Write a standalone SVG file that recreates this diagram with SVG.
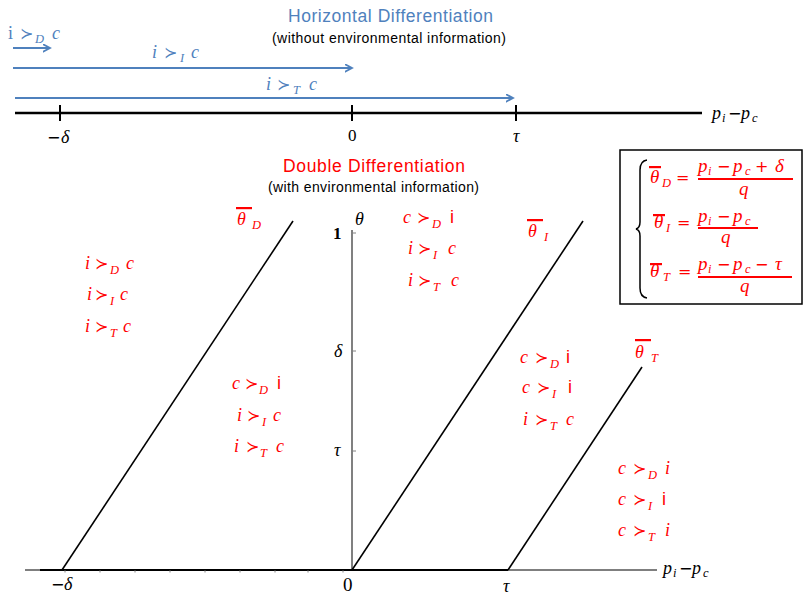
<svg xmlns="http://www.w3.org/2000/svg" width="805" height="596" viewBox="0 0 805 596">
<style>
.r{fill:#FF0000}
.b{fill:#4F81BD}
.it{font-family:"Liberation Serif","DejaVu Serif",serif;font-style:italic;font-size:18px}
.sub{font-family:"Liberation Serif","DejaVu Serif",serif;font-style:italic;font-size:12.5px}
.op{font-family:"DejaVu Sans",sans-serif;font-style:normal;font-size:16px}
.up{font-family:"Liberation Sans",sans-serif;font-style:normal;font-size:18px}
.rm{font-family:"Liberation Serif","DejaVu Serif",serif;font-style:normal}
.ttl{font-family:"Liberation Sans",sans-serif;font-size:17.5px}
.sttl{font-family:"Liberation Sans",sans-serif;font-size:14px;fill:#000}
.ax{stroke:#000;fill:none}
.ln{stroke:#000;stroke-width:1.6;fill:none}
.arr{stroke:#4F81BD;stroke-width:1.8;fill:none;marker-end:url(#ah)}
.fb{stroke:#FF0000;stroke-width:2}
.f19{font-size:19px}
</style>
<defs>
<marker id="ah" markerUnits="userSpaceOnUse" markerWidth="10" markerHeight="10" refX="7.5" refY="4" orient="auto">
<path d="M0,0 L7.5,4 L0,8" fill="none" stroke="#4F81BD" stroke-width="1.8"/>
</marker>
</defs>

<g id="titles">
<text class="ttl b" x="288" y="22" textLength="205">Horizontal Differentiation</text>
<text class="sttl" x="272" y="43" textLength="234">(without environmental information)</text>
<text class="ttl r" x="283" y="172" textLength="182">Double Differentiation</text>
<text class="sttl" x="268" y="192" textLength="211">(with environmental information)</text>
</g>

<g id="connectors">
<line class="arr" x1="13" y1="48" x2="50" y2="48"/>
<line class="arr" x1="13" y1="68" x2="352" y2="68"/>
<line class="arr" x1="15" y1="98" x2="513" y2="98"/>
<line class="ax" x1="15" y1="113" x2="702" y2="113" stroke-width="2.6"/>
<line class="ax" x1="60" y1="105" x2="60" y2="121" stroke-width="2"/>
<line class="ax" x1="352" y1="105" x2="352" y2="121" stroke-width="2"/>
<line class="ax" x1="516" y1="105" x2="516" y2="121" stroke-width="2"/>
<line x1="352" y1="230" x2="352" y2="570" stroke="#808080" stroke-width="2"/>
<line x1="352" y1="233" x2="356" y2="233" stroke="#808080" stroke-width="1"/>
<line x1="352" y1="351" x2="356" y2="351" stroke="#808080" stroke-width="1"/>
<line x1="352" y1="451" x2="356" y2="451" stroke="#808080" stroke-width="1"/>
<line class="ax" x1="25" y1="570" x2="657" y2="570" stroke-width="1.2"/>
<line class="ax" x1="40" y1="570" x2="508" y2="570" stroke-width="2"/>
<path d="M65,570v2.5M100,570v2.5M135,570v2.5M170,570v2.5M205,570v2.5M240,570v2.5M275,570v2.5M308,570v2.5M343,570v2.5" stroke="#666" stroke-width="0.8"/>
<line class="ln" x1="62" y1="570" x2="293" y2="221"/>
<line class="ln" x1="352" y1="570" x2="583" y2="221"/>
<line class="ln" x1="508" y1="570" x2="642" y2="367"/>
</g>

<g id="top-axis-labels">
<text x="47" y="143"><tspan class="op" font-size="15">−</tspan><tspan class="it" x="61" font-size="17">δ</tspan></text>
<text class="rm" x="348" y="141" font-size="17">0</text>
<text class="it" x="513" y="142" font-size="17">τ</text>
<text y="119"><tspan class="it" x="712" font-size="20">p</tspan><tspan class="sub" x="722" y="122">i</tspan><tspan class="op" x="728" y="119" font-size="15">−</tspan><tspan class="it" x="741" y="119" font-size="20">p</tspan><tspan class="sub" x="752" y="122">c</tspan></text>
</g>

<g id="bottom-axis-labels">
<text x="51" y="590"><tspan class="op" font-size="13">−</tspan><tspan class="it" x="64" font-size="16">δ</tspan></text>
<text class="rm" x="343" y="591" font-size="19">0</text>
<text class="it" x="503" y="592" font-size="17">τ</text>
<text y="574"><tspan class="it" x="663" font-size="20">p</tspan><tspan class="sub" x="673" y="577">i</tspan><tspan class="op" x="679" y="574" font-size="15">−</tspan><tspan class="it" x="692" y="574" font-size="20">p</tspan><tspan class="sub" x="703" y="577">c</tspan></text>
<text class="it" x="355" y="225" font-size="19">θ</text>
<text class="rm" x="333" y="239" font-size="17" font-weight="bold">1</text>
<text class="it" x="334" y="357" font-size="17">δ</text>
<text class="it" x="334" y="456" font-size="17">τ</text>
</g>

<g id="horizontal-labels" class="b">
<text><tspan class="rm" x="8" y="39" font-size="18">i</tspan><tspan class="op" x="20" y="39">≻</tspan><tspan class="sub" x="35" y="43">D</tspan><tspan class="it" x="52" y="39">c</tspan></text>
<text><tspan class="it" x="152" y="58">i</tspan><tspan class="op" x="164" y="58">≻</tspan><tspan class="sub" x="180" y="62">I</tspan><tspan class="it" x="191" y="58">c</tspan></text>
<text><tspan class="it" x="266" y="90">i</tspan><tspan class="op" x="277" y="90">≻</tspan><tspan class="sub" x="293" y="94">T</tspan><tspan class="it" x="309" y="90">c</tspan></text>
</g>

<g id="region-left" class="r">
<text><tspan class="it" x="85" y="269">i</tspan><tspan class="op" x="95" y="269">≻</tspan><tspan class="sub" x="110" y="274">D</tspan><tspan class="it" x="126" y="269">c</tspan></text>
<text><tspan class="it" x="87" y="300">i</tspan><tspan class="op" x="95" y="300">≻</tspan><tspan class="sub" x="110" y="305">I</tspan><tspan class="it" x="120" y="300">c</tspan></text>
<text><tspan class="it" x="85" y="332">i</tspan><tspan class="op" x="95" y="332">≻</tspan><tspan class="sub" x="110" y="337">T</tspan><tspan class="it" x="123" y="332">c</tspan></text>
</g>

<g id="region-center-left" class="r">
<text><tspan class="it" x="232" y="389">c</tspan><tspan class="op" x="245" y="389">≻</tspan><tspan class="sub" x="259" y="394">D</tspan><tspan class="up" x="277" y="389">i</tspan></text>
<text><tspan class="it" x="237" y="421">i</tspan><tspan class="op" x="247" y="421">≻</tspan><tspan class="sub" x="262" y="426">I</tspan><tspan class="it" x="273" y="421">c</tspan></text>
<text><tspan class="it" x="234" y="452">i</tspan><tspan class="op" x="246" y="452">≻</tspan><tspan class="sub" x="260" y="457">T</tspan><tspan class="it" x="276" y="452">c</tspan></text>
</g>

<g id="region-top-center" class="r">
<text><tspan class="it" x="403" y="223">c</tspan><tspan class="op" x="417" y="223">≻</tspan><tspan class="sub" x="432" y="228">D</tspan><tspan class="up" x="450" y="223">i</tspan></text>
<text><tspan class="it" x="408" y="254">i</tspan><tspan class="op" x="418" y="254">≻</tspan><tspan class="sub" x="433" y="259">I</tspan><tspan class="it" x="448" y="254">c</tspan></text>
<text><tspan class="it" x="408" y="286">i</tspan><tspan class="op" x="418" y="286">≻</tspan><tspan class="sub" x="433" y="291">T</tspan><tspan class="it" x="451" y="286">c</tspan></text>
</g>

<g id="region-right-mid" class="r">
<text><tspan class="it" x="520" y="363">c</tspan><tspan class="op" x="535" y="363">≻</tspan><tspan class="sub" x="550" y="368">D</tspan><tspan class="up" x="566" y="363">i</tspan></text>
<text><tspan class="it" x="522" y="393">c</tspan><tspan class="op" x="537" y="393">≻</tspan><tspan class="sub" x="552" y="398">I</tspan><tspan class="up" x="568" y="393">i</tspan></text>
<text><tspan class="it" x="523" y="425">i</tspan><tspan class="op" x="535" y="425">≻</tspan><tspan class="sub" x="550" y="430">T</tspan><tspan class="it" x="566" y="425">c</tspan></text>
</g>

<g id="region-bottom-right" class="r">
<text><tspan class="it" x="618" y="474">c</tspan><tspan class="op" x="633" y="474">≻</tspan><tspan class="sub" x="648" y="479">D</tspan><tspan class="it" x="665" y="474">i</tspan></text>
<text><tspan class="it" x="618" y="505">c</tspan><tspan class="op" x="633" y="505">≻</tspan><tspan class="sub" x="648" y="510">I</tspan><tspan class="up" x="662" y="505">i</tspan></text>
<text><tspan class="it" x="618" y="536">c</tspan><tspan class="op" x="633" y="536">≻</tspan><tspan class="sub" x="648" y="541">T</tspan><tspan class="it" x="665" y="536">i</tspan></text>
</g>

<g id="theta-D" class="r">
<rect x="236" y="207" width="16" height="2.2"/>
<text class="it" x="237" y="225">θ</text>
<text class="sub" x="252" y="229" font-size="13">D</text>
</g>
<g id="theta-I" class="r">
<rect x="527" y="219" width="16" height="2.2"/>
<text class="it" x="528" y="237">θ</text>
<text class="sub" x="544" y="241" font-size="13">I</text>
</g>
<g id="theta-T" class="r">
<rect x="635" y="339" width="16" height="2.2"/>
<text class="it" x="635" y="358">θ</text>
<text class="sub" x="651" y="362" font-size="13">T</text>
</g>

<g id="formula-box">
<rect x="620" y="150" width="182" height="154" fill="none" stroke="#000" stroke-width="1.5"/>
<path d="M647,160 Q640,161 640,170 L640,222 Q640,228 636,229 Q640,230 640,236 L640,288 Q640,297 647,298" fill="none" stroke="#000" stroke-width="1.5"/>
<g class="r">
<rect x="649" y="166" width="12" height="2.2"/>
<text class="it f19" x="650" y="183">θ</text>
<text class="sub" x="662" y="187" font-size="13">D</text>
<text class="op" x="676" y="183" font-size="18">=</text>
<text y="172"><tspan class="it f19" x="698">p</tspan><tspan class="sub" x="708" y="175">i</tspan><tspan class="op" x="717" y="172" font-size="15">−</tspan><tspan class="it f19" x="733" y="172">p</tspan><tspan class="sub" x="745" y="175">c</tspan><tspan class="op" x="755" y="172" font-size="15">+</tspan><tspan class="it f19" x="775" y="172">δ</tspan></text>
<line class="fb" x1="698" y1="179" x2="793" y2="179"/>
<text class="it f19" x="739" y="195">q</text>

<rect x="653" y="214" width="12" height="2.2"/>
<text class="it f19" x="654" y="228">θ</text>
<text class="sub" x="666" y="232" font-size="13">I</text>
<text class="op" x="677" y="228" font-size="18">=</text>
<text y="222"><tspan class="it f19" x="698">p</tspan><tspan class="sub" x="708" y="225">i</tspan><tspan class="op" x="717" y="222" font-size="15">−</tspan><tspan class="it f19" x="733" y="222">p</tspan><tspan class="sub" x="745" y="225">c</tspan></text>
<line class="fb" x1="698" y1="228" x2="758" y2="228"/>
<text class="it f19" x="721" y="243">q</text>

<rect x="650" y="263" width="12" height="2.2"/>
<text class="it f19" x="650" y="277">θ</text>
<text class="sub" x="663" y="281" font-size="13">T</text>
<text class="op" x="678" y="277" font-size="18">=</text>
<text y="270"><tspan class="it f19" x="698">p</tspan><tspan class="sub" x="708" y="273">i</tspan><tspan class="op" x="717" y="270" font-size="15">−</tspan><tspan class="it f19" x="733" y="270">p</tspan><tspan class="sub" x="745" y="273">c</tspan><tspan class="op" x="755" y="270" font-size="15">−</tspan><tspan class="it f19" x="775" y="270">τ</tspan></text>
<line class="fb" x1="698" y1="277" x2="792" y2="277"/>
<text class="it f19" x="740" y="292">q</text>
</g>
</g>
</svg>
